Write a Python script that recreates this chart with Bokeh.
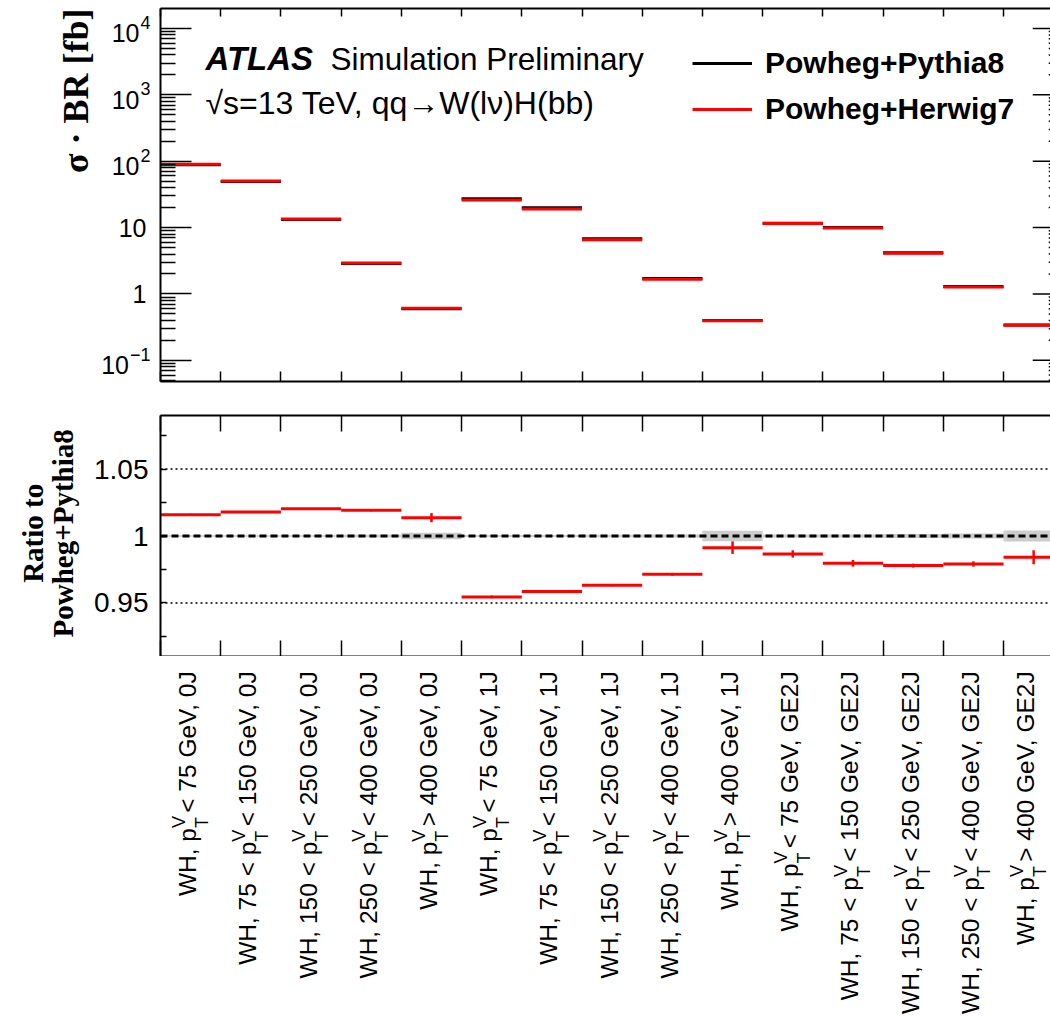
import math
import numpy as np
from bokeh.plotting import figure
from bokeh.layouts import column, row
from bokeh.models import (Range1d, LinearAxis, FixedTicker, Span, Label, Legend,
                          LegendItem)
from bokeh.core.properties import value
from bokeh.embed import file_html
from bokeh.resources import INLINE

# ---------------- data ----------------
label_prefix = ["WH, ", "WH, 75 < ", "WH, 150 < ", "WH, 250 < ", "WH, ",
                "WH, ", "WH, 75 < ", "WH, 150 < ", "WH, 250 < ", "WH, ",
                "WH, ", "WH, 75 < ", "WH, 150 < ", "WH, 250 < ", "WH, "]
label_suffix = [" < 75 GeV, 0J", " < 150 GeV, 0J", " < 250 GeV, 0J", " < 400 GeV, 0J", " > 400 GeV, 0J",
                " < 75 GeV, 1J", " < 150 GeV, 1J", " < 250 GeV, 1J", " < 400 GeV, 1J", " > 400 GeV, 1J",
                " < 75 GeV, GE2J", " < 150 GeV, GE2J", " < 250 GeV, GE2J", " < 400 GeV, GE2J", " > 400 GeV, GE2J"]

xsec_pythia8 = [88.6, 49.4, 13.2, 2.87, 0.60, 27.2, 19.9, 6.82, 1.71, 0.40,
                11.66, 10.07, 4.19, 1.30, 0.342]
xsec_herwig7 = [90.0, 50.3, 13.5, 2.93, 0.61, 26.0, 19.1, 6.57, 1.66, 0.396,
                11.5, 9.86, 4.10, 1.27, 0.337]
ratio_herwig7 = [1.0159, 1.0179, 1.0204, 1.0192, 1.0137, 0.9545, 0.9585, 0.9632, 0.9714, 0.9913,
                 0.9866, 0.9796, 0.9779, 0.9791, 0.9841]
ratio_err = [0.0008, 0.0007, 0.0006, 0.0008, 0.0034, 0.0010, 0.0010, 0.0008, 0.0010, 0.0047,
             0.0027, 0.0025, 0.0015, 0.0020, 0.0052]
ref_band = [0.0006, 0.0006, 0.0006, 0.0009, 0.0025, 0.0008, 0.0008, 0.0009, 0.0012, 0.0040,
            0.0012, 0.0012, 0.0015, 0.0018, 0.0042]

top_ticks = [0.1, 1, 10, 100, 1000, 10000]
top_tick_base = ["10", "1", "10", "10", "10", "10"]
top_tick_exp = ["\u22121", "", "", "2", "3", "4"]
ratio_ticks = [0.95, 1, 1.05]
ratio_tick_labels = ["0.95", "1", "1.05"]
ratio_minor_ticks = [0.925, 0.975, 1.025, 1.075]

# ---------------- layout constants ----------------
N = len(label_suffix)
edges_lo = np.arange(N, dtype=float)
edges_hi = edges_lo + 1
centers = edges_lo + 0.5

LEFT = 160
LW = LEFT - 2          # width of the side panels holding axis texts
FRAME_W = 890
X_END = 14.78
TOP_H = 373
BOT_H = 241
LAB_H = 361
PPU = FRAME_W / X_END  # pixels per bin

SANS = "Liberation Sans"
SERIF = "Liberation Serif"

AW = {' ': 0.278, ',': 0.278, '<': 0.584, '>': 0.584, 'G': 0.778, 'e': 0.556, 'V': 0.667,
      'J': 0.5, 'E': 0.667, 'W': 0.944, 'H': 0.722, 'p': 0.556, 'T': 0.611, '\u2212': 0.584}


def tw(s, fs):
    return fs * sum(AW.get(c, 0.556) for c in s)


top_minor = [m * 10.0 ** d for d in range(-2, 5) for m in range(2, 10)
             if 0.048 < m * 10.0 ** d < 2.0e4]


def style_axis(ax, tick_in, minor_in=0):
    ax.axis_line_width = 2
    ax.axis_line_color = "black"
    ax.major_tick_in = tick_in
    ax.major_tick_out = 0
    ax.minor_tick_in = minor_in
    ax.minor_tick_out = 0
    ax.major_tick_line_width = 1.5
    ax.minor_tick_line_width = 1.5
    ax.major_tick_line_color = "black"
    ax.minor_tick_line_color = "black" if minor_in else None
    ax.major_label_text_color = None
    ax.major_label_standoff = 0


def add_x_axes(p, tin_below, tin_above):
    for loc, tin in (("below", tin_below), ("above", tin_above)):
        ax = LinearAxis(ticker=FixedTicker(ticks=list(range(N + 1))))
        style_axis(ax, tin)
        p.add_layout(ax, loc)


def bare(p):
    p.outline_line_color = None
    p.xgrid.visible = False
    p.ygrid.visible = False
    p.background_fill_color = "white"
    p.border_fill_color = "white"


# ---------------- top panel ----------------
p1 = figure(title=None, frame_width=FRAME_W, frame_height=TOP_H,
            x_range=Range1d(0, X_END), y_range=Range1d(0.048, 2.0e4),
            y_axis_type="log", x_axis_location=None,
            output_backend="svg", toolbar_location=None,
            min_border_left=2, min_border_right=0, min_border_top=8, min_border_bottom=17)
bare(p1)
ya = p1.yaxis[0]
ya.ticker = FixedTicker(ticks=top_ticks, minor_ticks=top_minor)
style_axis(ya, 31, 15)
add_x_axes(p1, 10, 8)

r_py = p1.segment(x0=edges_lo, x1=edges_hi, y0=xsec_pythia8, y1=xsec_pythia8,
                  line_color="black", line_width=3)
r_hw = p1.segment(x0=edges_lo, x1=edges_hi, y0=xsec_herwig7, y1=xsec_herwig7,
                  line_color="#ff0000", line_width=3)

# mirrored ticks of the (cropped) right-hand frame edge
p1.segment(x0=[N - 31 / PPU] * len(top_ticks), x1=[N] * len(top_ticks),
           y0=top_ticks, y1=top_ticks, line_color="black", line_width=1.5)
p1.segment(x0=[N - 15 / PPU] * len(top_minor), x1=[N] * len(top_minor),
           y0=top_minor, y1=top_minor, line_color="black", line_width=1.5)

legend = Legend(items=[LegendItem(label="Powheg+Pythia8", renderers=[r_py]),
                       LegendItem(label="Powheg+Herwig7", renderers=[r_hw])],
                location=(532, 255), orientation="vertical",
                border_line_color=None, background_fill_alpha=0,
                label_text_font=SANS, label_text_font_style="bold",
                label_text_font_size="30px", label_text_color="black",
                glyph_width=60, glyph_height=30, label_height=30,
                label_standoff=13, spacing=12, padding=0, margin=0)
p1.add_layout(legend)

# frame-relative screen coordinates (from the frame's bottom-left corner)
p1.add_layout(Label(x=45, y=323, x_units="screen", y_units="screen", text="ATLAS",
                    text_font=SANS, text_font_style="bold italic", text_font_size="33px",
                    text_baseline="middle", text_color="black"))
p1.add_layout(Label(x=170, y=323, x_units="screen", y_units="screen",
                    text="Simulation Preliminary",
                    text_font=SANS, text_font_size="31.5px",
                    text_baseline="middle", text_color="black"))
p1.add_layout(Label(x=45, y=279, x_units="screen", y_units="screen",
                    text="\u221as=13 TeV, qq\u2192W(l\u03bd)H(bb)",
                    text_font=SANS, text_font_size="32px",
                    text_baseline="middle", text_color="black"))

# side panel with the y tick labels and title of the top panel
pL1 = figure(title=None, frame_width=LW, frame_height=TOP_H,
             x_range=Range1d(0, LW), y_range=p1.y_range, y_axis_type="log",
             x_axis_location=None, y_axis_location=None,
             output_backend="svg", toolbar_location=None,
             min_border_left=0, min_border_right=0, min_border_top=8, min_border_bottom=17)
bare(pL1)

plain_idx = [i for i in range(len(top_ticks)) if not top_tick_exp[i]]
exp_idx = [i for i in range(len(top_ticks)) if top_tick_exp[i]]
FS_T, FS_E = 25, 18
pL1.text(x=[146] * len(plain_idx), y=[top_ticks[i] for i in plain_idx],
         text=[top_tick_base[i] for i in plain_idx],
         text_align="right", text_baseline="middle",
         text_font=value(SANS), text_font_size=value("%dpx" % FS_T), text_color="black")
pL1.text(x=[150 - tw(top_tick_exp[i], FS_E) - 1 for i in exp_idx],
         y=[top_ticks[i] for i in exp_idx],
         text=[top_tick_base[i] for i in exp_idx], y_offset=5,
         text_align="right", text_baseline="middle",
         text_font=value(SANS), text_font_size=value("%dpx" % FS_T), text_color="black")
pL1.text(x=[150] * len(exp_idx), y=[top_ticks[i] for i in exp_idx],
         text=[top_tick_exp[i] for i in exp_idx], y_offset=-6,
         text_align="right", text_baseline="middle",
         text_font=value(SANS), text_font_size=value("%dpx" % FS_E), text_color="black")
pL1.text(x=[75], y=[p1.y_range.end], text=["\u03c3 \u00b7 BR [fb]"],
         angle=math.pi / 2, text_align="right", text_baseline="middle",
         text_font=value(SERIF), text_font_style="bold", text_font_size=value("36px"),
         text_color="black")

# ---------------- ratio panel ----------------
p2 = figure(title=None, frame_width=FRAME_W, frame_height=BOT_H,
            x_range=p1.x_range, y_range=Range1d(0.91, 1.09),
            x_axis_location=None, output_backend="svg", toolbar_location=None,
            min_border_left=2, min_border_right=0, min_border_top=17, min_border_bottom=0)
bare(p2)
yb = p2.yaxis[0]
yb.ticker = FixedTicker(ticks=ratio_ticks, minor_ticks=ratio_minor_ticks)
style_axis(yb, 6, 6)
add_x_axes(p2, 16, 16)

band = np.array(ref_band)
p2.quad(left=edges_lo, right=edges_hi, bottom=1 - band, top=1 + band,
        fill_color="#cccccc", line_color=None)
for lvl in (0.95, 1.05):
    p2.add_layout(Span(location=lvl, dimension="width", line_color="black",
                       line_width=1.5, line_dash="2 3"))
p2.add_layout(Span(location=1.0, dimension="width", line_color="black",
                   line_width=3, line_dash="7 4"))

r = np.array(ratio_herwig7)
e = np.array(ratio_err)
p2.segment(x0=edges_lo, x1=edges_hi, y0=r, y1=r, line_color="#ff0000", line_width=3)
p2.segment(x0=centers, x1=centers, y0=r - e, y1=r + e, line_color="#ff0000", line_width=2.5)

pL2 = figure(title=None, frame_width=LW, frame_height=BOT_H,
             x_range=Range1d(0, LW), y_range=p2.y_range,
             x_axis_location=None, y_axis_location=None,
             output_backend="svg", toolbar_location=None,
             min_border_left=0, min_border_right=0, min_border_top=17, min_border_bottom=0)
bare(pL2)
pL2.text(x=[148] * len(ratio_ticks), y=ratio_ticks, text=ratio_tick_labels,
         text_align="right", text_baseline="middle",
         text_font=value(SANS), text_font_size=value("28px"), text_color="black")
pL2.text(x=[32, 62], y=[1.002, 1.002], text=["Ratio to", "Powheg+Pythia8"],
         angle=math.pi / 2, text_align="center", text_baseline="middle",
         text_font=value(SERIF), text_font_style="bold", text_font_size=value("29px"),
         text_color="black")

# ---------------- bin labels ----------------
p3 = figure(title=None, frame_width=FRAME_W, frame_height=LAB_H,
            x_range=p1.x_range, y_range=Range1d(LAB_H, 0),
            x_axis_location=None, y_axis_location=None,
            output_backend="svg", toolbar_location=None,
            min_border_left=LEFT, min_border_right=0, min_border_top=0, min_border_bottom=0)
bare(p3)

FS_MAIN, FS_SMALL = 24.5, 18
Y0 = 8
WSS = AW['V'] * FS_SMALL + 1
ws = [tw(s, FS_MAIN) for s in label_suffix]
y_p = [Y0 + w + WSS for w in ws]
DX_MAIN, DX_SUB, DX_SUP = -3, 11, -12
SUB_HALF = 11
# keep the whole label inside the visible canvas (last, cropped bin)
shift = [min(0.0, (X_END - c) * PPU - (DX_SUB + SUB_HALF)) for c in centers]
xc = [c + s / PPU for c, s in zip(centers, shift)]

p3.text(x=[c + DX_MAIN / PPU for c in xc] * 2, y=[Y0] * N + y_p,
        text=list(label_suffix) + [pre + "p" for pre in label_prefix],
        angle=math.pi / 2, text_align="right", text_baseline="middle",
        text_font=value(SANS), text_font_size=value("%spx" % FS_MAIN), text_color="black")
p3.text(x=[c + DX_SUB / PPU for c in xc], y=y_p, text=["T"] * N,
        angle=math.pi / 2, text_align="left", text_baseline="middle",
        text_font=value(SANS), text_font_size=value("%dpx" % FS_SMALL), text_color="black")
p3.text(x=[c + DX_SUP / PPU for c in xc], y=y_p, text=["V"] * N,
        angle=math.pi / 2, text_align="left", text_baseline="middle",
        text_font=value(SANS), text_font_size=value("%dpx" % FS_SMALL), text_color="black")

layout = column(row(pL1, p1), row(pL2, p2), p3)
open("out.html", "w").write(file_html(layout, INLINE))
